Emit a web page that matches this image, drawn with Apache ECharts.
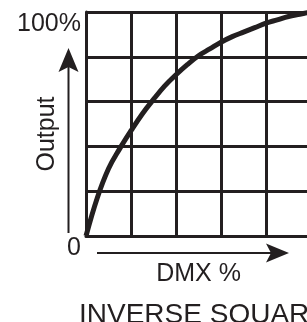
<!DOCTYPE html>
<html>
<head>
<meta charset="utf-8">
<script src="https://cdn.jsdelivr.net/npm/echarts@6/dist/echarts.min.js"></script>
<style>
  html, body { margin: 0; padding: 0; background: #fff; }
  #chart { width: 307px; height: 322px; }
</style>
</head>
<body>
<div id="chart"></div>
<script>
// DMX 输入 (%) 与输出 (%)
var dmxIn = [0, 5, 10, 15, 20, 25, 30, 35, 40, 45, 50, 55, 60, 65, 70, 75, 80, 85, 90, 95, 100]
var outVal = [0, 17, 30, 39, 47, 54.5, 61, 67, 72, 76.5, 80.5, 83.5, 86.5, 89, 91, 93, 95, 96.5, 98, 99, 100]
var yTickLabels = { 0: '0', 100: '100%' }

var ink = '#231f20'
var fontName = '"Liberation Sans", Arial, sans-serif'

var chartDom = document.getElementById('chart')
var myChart = echarts.init(chartDom)

var seriesData = []
for (var i = 0; i < dmxIn.length; i++) {
    seriesData.push([dmxIn[i], outVal[i]])
}

var option = {
    animation: false,
    title: {
        text: 'INVERSE SQUARE',
        left: 74,
        top: 296,
        textStyle: {
            fontFamily: fontName,
            fontSize: 28,
            fontWeight: 'normal',
            color: ink
        }
    },
    grid: {
        left: 86,
        top: 12,
        width: 225,
        height: 224,
        outerBoundsMode: 'none',
        containLabel: false
    },
    xAxis: {
        type: 'value',
        min: 0,
        max: 100,
        interval: 20,
        name: 'DMX %',
        nameLocation: 'middle',
        nameGap: 26,
        nameTextStyle: { fontFamily: fontName, fontSize: 25, color: ink },
        axisLine: { lineStyle: { color: ink, width: 3 } },
        axisTick: { show: false },
        axisLabel: { show: false },
        splitLine: { lineStyle: { color: ink, width: 3 } }
    },
    yAxis: {
        type: 'value',
        min: 0,
        max: 100,
        interval: 20,
        name: 'Output',
        nameLocation: 'middle',
        nameGap: 26,
        nameRotate: 90,
        nameMoveOverlap: false,
        nameTextStyle: { fontFamily: fontName, fontSize: 25, color: ink, padding: [0, 20, 0, 0] },
        axisLine: { show: true, lineStyle: { color: ink, width: 3 } },
        axisTick: { show: false },
        axisLabel: {
            margin: 5,
            verticalAlign: 'top',
            fontFamily: fontName,
            fontSize: 25,
            color: ink,
            formatter: function (v) {
                return yTickLabels[v] || ''
            }
        },
        splitLine: { lineStyle: { color: ink, width: 3 } }
    },
    graphic: [
        // 纵向箭头
        { type: 'line', shape: { x1: 68.5, y1: 62, x2: 68.5, y2: 233 }, style: { stroke: ink, lineWidth: 2 } },
        { type: 'polygon', shape: { points: [[68.5, 48], [58.5, 72], [68.5, 67], [78.5, 72]] }, style: { fill: ink } },
        // 横向箭头
        { type: 'line', shape: { x1: 97, y1: 253, x2: 275, y2: 253 }, style: { stroke: ink, lineWidth: 2 } },
        { type: 'polygon', shape: { points: [[289, 253], [266, 243.5], [271, 253], [266, 262.5]] }, style: { fill: ink } }
    ],
    series: [
        {
            type: 'line',
            smooth: 0.4,
            showSymbol: false,
            lineStyle: { color: ink, width: 5 },
            data: seriesData
        }
    ]
}

myChart.setOption(option)
</script>
</body>
</html>
